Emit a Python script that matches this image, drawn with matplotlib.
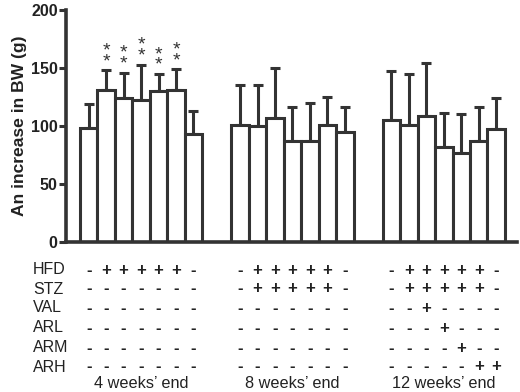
import numpy as np
import matplotlib.pyplot as plt
import matplotlib.transforms as mtransforms

plt.rcParams['font.family'] = ['Liberation Sans', 'DejaVu Sans']

groups = ["4 weeks\u2019 end", "8 weeks\u2019 end", "12 weeks\u2019 end"]
means = [
    [98, 131, 124, 122, 130, 131, 93],
    [101, 100, 107, 87, 87, 101, 95],
    [105, 101, 109, 82, 77, 87, 97],
]
tops = [
    [119, 148, 146, 153, 145, 149, 113],
    [135, 135, 150, 116, 120, 125, 116],
    [147, 145, 154, 111, 110, 116, 124],
]
stars = [
    [False, True, True, True, True, True, False],
    [False] * 7,
    [False] * 7,
]
row_names = ["HFD", "STZ", "VAL", "ARL", "ARM", "ARH"]
signs = [
    ["-+++++-", "-------", "-------", "-------", "-------", "-------"],
    ["-+++++-", "-+++++-", "-------", "-------", "-------", "-------"],
    ["-+++++-", "-+++++-", "--+----", "---+---", "----+--", "-----++"],
]

ink = '#333333'
gap = 1.67

fig = plt.figure(figsize=(5.2, 3.92), dpi=100)
ax = fig.add_axes([66 / 520, 150 / 392, 451 / 520, 232 / 392])

for g in range(3):
    x = g * (7 + gap) + np.arange(7)
    m = np.array(means[g])
    e = np.array(tops[g]) - m
    ax.bar(x, m, width=1.0, color='white', edgecolor=ink, linewidth=2.2, zorder=2)
    ax.errorbar(x, m, yerr=[np.zeros(7), e], fmt='none', ecolor=ink,
                elinewidth=2.2, capsize=3.6, capthick=2.2, zorder=1)
    for i in range(7):
        if stars[g][i]:
            ax.text(x[i], tops[g][i], "*\n*", ha='center', va='bottom',
                    fontsize=14, color=ink, linespacing=0.52)

ax.set_xlim(-1.3, 24.53)
ax.set_ylim(0, 200)
ax.set_yticks([0, 50, 100, 150, 200])
ax.set_xticks([])
ax.tick_params(axis='y', width=2.2, length=5, color=ink, labelsize=11.5, pad=1)
for lab in ax.get_yticklabels():
    lab.set_fontweight('bold')
    lab.set_color('#222222')
for s in ['top', 'right']:
    ax.spines[s].set_visible(False)
for s in ['left', 'bottom']:
    ax.spines[s].set_linewidth(2.6)
    ax.spines[s].set_color(ink)
ax.set_ylabel("An increase in BW (g)", fontsize=12.6, fontweight='bold', color='#222222', labelpad=3)

# table of treatments under the bars
trans = mtransforms.blended_transform_factory(ax.transData, fig.transFigure)
row_y = [270, 289, 308, 328, 348, 367]
for r, name in enumerate(row_names):
    fig.text(33 / 520, 1 - row_y[r] / 392, name, fontsize=11.5, va='center', ha='left', color='#222222')
    for g in range(3):
        for i, ch in enumerate(signs[g][r]):
            xg = g * (7 + gap) + i
            ax.text(xg, 1 - row_y[r] / 392, ch, transform=trans, ha='center', va='center',
                    fontsize=12, fontweight='bold', color='#222222')
for g in range(3):
    ax.text(g * (7 + gap) + 3, 1 - 384 / 392, groups[g], transform=trans, ha='center',
            va='center', fontsize=11.7, color='#222222')

fig.savefig('out.png', dpi=100)
